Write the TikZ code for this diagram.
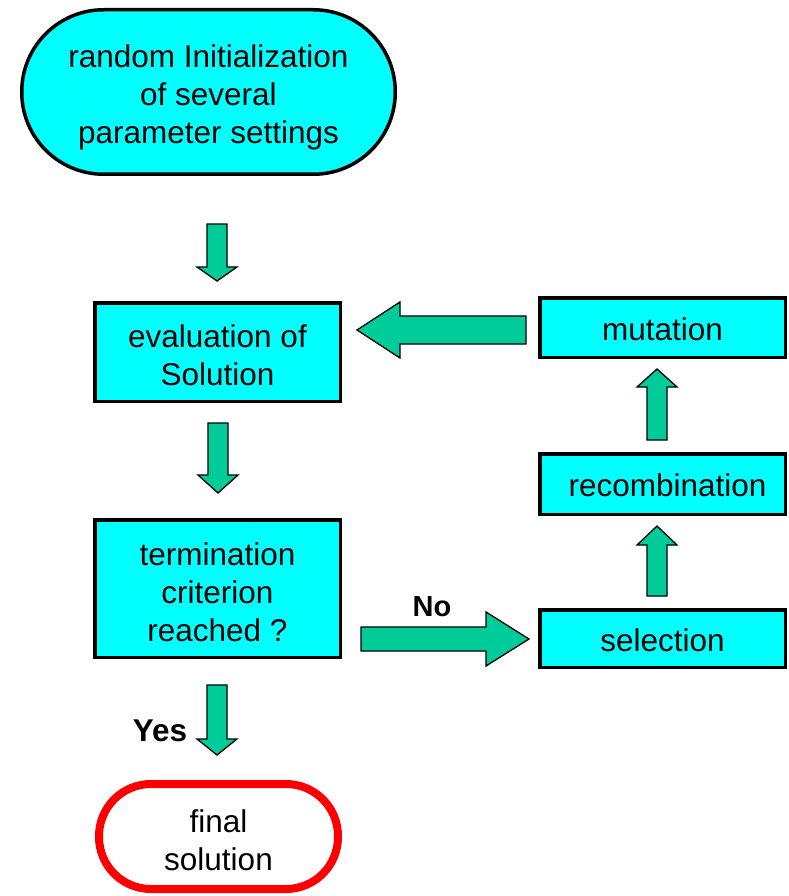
\documentclass[tikz,border=0pt]{standalone}
\usepackage{fontspec}
\setmainfont{Liberation Sans}
\usetikzlibrary{calc}
\definecolor{boxcyan}{HTML}{00FFFF}
\definecolor{arrowgreen}{HTML}{00CC99}
\definecolor{endred}{HTML}{FF0000}

% block arrow: tail, tip, shaft half width, head half width, head length
\newcommand{\blockarrow}[5]{%
  \coordinate (#2-base) at ($(#2)!#5!(#1)$);
  \draw[blockarrow]
    ($(#1)!#3!90:(#2)$) -- ($(#2-base)!#3!90:(#2)$) -- ($(#2-base)!#4!90:(#2)$)
    -- (#2) -- ($(#2-base)!#4!-90:(#2)$) -- ($(#2-base)!#3!-90:(#2)$)
    -- ($(#1)!#3!-90:(#2)$) -- cycle;}

\tikzset{
  txt/.style={font=\fontsize{31.5}{38}\selectfont, align=center, text=black, inner sep=0pt},
  procbox/.style={draw=black, line width=3.5pt, fill=boxcyan,
    rectangle, inner sep=0pt},
  startbox/.style={procbox, rounded corners=82pt},
  endbox/.style={draw=endred, line width=8pt, fill=white,
    rounded corners=52pt, inner sep=0pt},
  blockarrow/.style={draw=black, line width=1.3pt, fill=arrowgreen, line join=miter},
  answer/.style={font=\fontsize{#1}{34}\selectfont\bfseries, text=black},
  answer/.default=29
}

\begin{document}
\begin{tikzpicture}[x=1pt, y=-1pt]
  \useasboundingbox (0,0) rectangle (789,896);

  % process shapes
  \node[startbox, minimum width=373.5pt, minimum height=164.5pt] (init) at (208.5,92) {};
  \node[procbox, minimum width=245.5pt, minimum height=98.5pt] (eval) at (217.5,352) {};
  \node[procbox, minimum width=245.5pt, minimum height=137.5pt] (term) at (217.5,588.5) {};
  \node[procbox, minimum width=245.5pt, minimum height=59.5pt] (mut) at (662.5,327.5) {};
  \node[procbox, minimum width=245.5pt, minimum height=60.5pt] (rec) at (662.5,484) {};
  \node[procbox, minimum width=245.5pt, minimum height=57.5pt] (sel) at (662.5,638.5) {};
  \node[endbox, minimum width=239pt, minimum height=105pt] (final) at (218.5,836.5) {};

  % their texts
  \node[txt] (initT) at ([yshift=-5pt]init.center) {random Initialization\\of several\\parameter settings};
  \node[txt] (evalT) at ([yshift=-3pt]eval.center) {evaluation of\\Solution};
  \node[txt] (termT) at ([yshift=-4pt]term.center) {termination\\criterion\\reached ?};
  \node[txt] (mutT) at ([yshift=-2pt]mut.center) {mutation};
  \node[txt] (recT) at ([xshift=5pt,yshift=-1pt]rec.center) {recombination};
  \node[txt] (selT) at ([yshift=-2pt]sel.center) {selection};
  \node[txt] (finalT) at ([yshift=-4pt]final.center) {final\\solution};

  % arrow end points
  \coordinate (a1s) at (217,224);   \coordinate (a1e) at (217,281);
  \coordinate (a2s) at (218,423);   \coordinate (a2e) at (218,493);
  \coordinate (a3s) at (526,330);   \coordinate (a3e) at (357,330);
  \coordinate (a4s) at (361,639);   \coordinate (a4e) at (529,639);
  \coordinate (a5s) at (657,440);   \coordinate (a5e) at (657,369);
  \coordinate (a6s) at (657,596);   \coordinate (a6e) at (657,526);
  \coordinate (a7s) at (217,685);   \coordinate (a7e) at (217,755);

  \blockarrow{a1s}{a1e}{10pt}{20pt}{14pt}
  \blockarrow{a2s}{a2e}{10pt}{20pt}{18pt}
  \blockarrow{a3s}{a3e}{14pt}{28pt}{43pt}
  \blockarrow{a4s}{a4e}{12pt}{27pt}{43pt}
  \blockarrow{a5s}{a5e}{10pt}{20pt}{18pt}
  \blockarrow{a6s}{a6e}{10pt}{20pt}{19pt}
  \blockarrow{a7s}{a7e}{10pt}{20pt}{16pt}

  % branch labels
  \node[answer=29] (no) at (432,607) {No};
  \node[answer=31.5] (yes) at (160,731) {Yes};
\end{tikzpicture}
\end{document}
